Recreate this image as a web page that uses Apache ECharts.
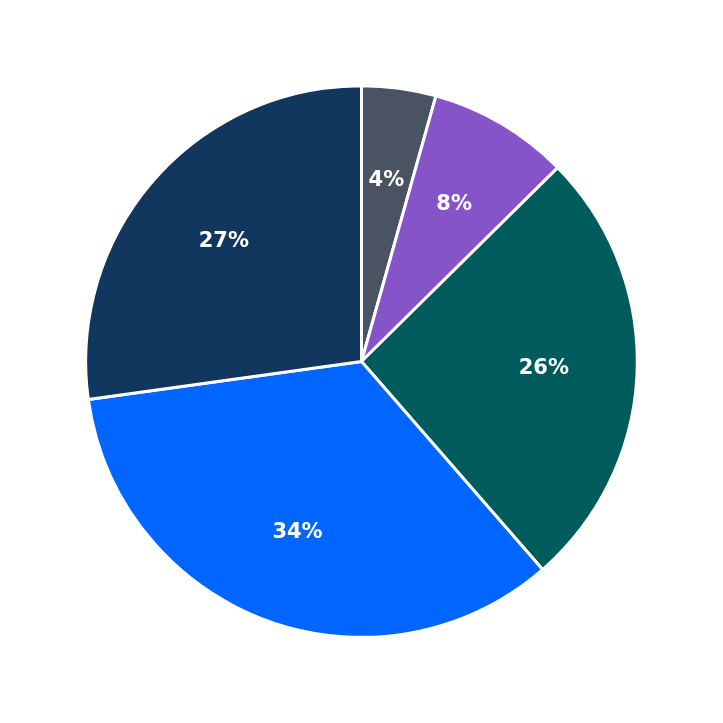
<!DOCTYPE html>
<html><head><meta charset="utf-8">
<script src="https://cdn.jsdelivr.net/npm/echarts@6/dist/echarts.min.js"></script>
<style>html,body{margin:0;padding:0;background:#fff}#c{width:723px;height:723px}</style>
</head><body><div id="c"></div>
<script>
const categories = ['A','B','C','D','E'];
const values = [4.35, 8.25, 26.0, 34.2, 27.2];
const labels = ['4%','8%','26%','34%','27%'];
const colors = ['#4a5361','#8654c9','#005c5c','#0066ff','#12375e'];
const data = categories.map((n,i)=>({name:n,value:values[i],itemStyle:{color:colors[i]}}));
const chart = echarts.init(document.getElementById('c'));
chart.setOption({
  animation:false,
  series:[
    {type:'pie',center:['50%','50%'],radius:['0%','76.3%'],startAngle:90,clockwise:true,
     data:data,label:{show:false},labelLine:{show:false},
     itemStyle:{borderColor:'#fff',borderWidth:3},emphasis:{disabled:true}},
    {type:'pie',center:['50%','50%'],radius:['40%','59.3%'],startAngle:90,clockwise:true,silent:true,
     data:categories.map((n,i)=>({name:n,value:values[i]})),
     itemStyle:{color:'rgba(0,0,0,0)'},
     label:{show:true,position:'inside',formatter:p=>labels[p.dataIndex],color:'#fff',fontSize:21,fontWeight:'bold',fontFamily:'DejaVu Sans'},
     labelLine:{show:false},emphasis:{disabled:true}}
  ]
});
</script></body></html>
